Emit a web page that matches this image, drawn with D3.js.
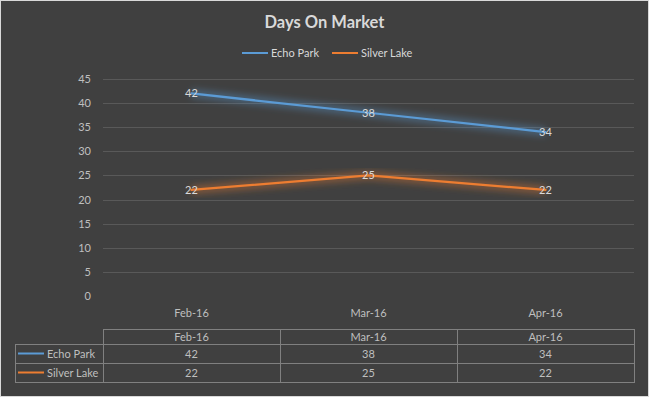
<!DOCTYPE html>
<html>
<head>
<meta charset="utf-8">
<script src="https://cdn.jsdelivr.net/npm/d3@7"></script>
<style>
  html, body { margin: 0; padding: 0; background: #404040; }
  svg { display: block; font-family: Lato, "Open Sans", sans-serif; }
</style>
</head>
<body>
<svg id="chart"></svg>
<script>
// ---- data ----
const months = ["Feb-16", "Mar-16", "Apr-16"];
const seriesNames = ["Echo Park", "Silver Lake"];
const echoPark = [42, 38, 34];
const silverLake = [22, 25, 22];
const yTicks = [0, 5, 10, 15, 20, 25, 30, 35, 40, 45];
const seriesColors = ["#5b9bd5", "#ed7d31"];

const seriesData = [echoPark, silverLake];

const W = 649, H = 397;
const plot = { left: 103, right: 634, top: 79, bottom: 296 };
const textColor = "#d9d9d9";
const tickColor = "#bfbfbf";

const svg = d3.select("#chart").attr("width", W).attr("height", H);

// background + border
svg.append("rect").attr("x", 0.5).attr("y", 0.5).attr("width", W - 1).attr("height", H - 1)
  .attr("fill", "#404040").attr("stroke", "#d9d9d9");

// glow filter
const defs = svg.append("defs");
const glow = defs.append("filter").attr("id", "glow")
  .attr("x", "-10%").attr("y", "-50%").attr("width", "120%").attr("height", "200%");
glow.append("feGaussianBlur").attr("stdDeviation", 3.5);

// title
svg.append("text").attr("x", W / 2).attr("y", 28).attr("text-anchor", "middle")
  .attr("fill", textColor).attr("font-size", 16.5).attr("font-weight", "bold")
  .text("Days On Market");

// legend
const legendX = [242, 332];
seriesNames.forEach((name, i) => {
  const g = svg.append("g").attr("transform", `translate(${legendX[i]},53)`);
  g.append("line").attr("x1", 0).attr("x2", 26).attr("stroke", seriesColors[i]).attr("stroke-width", 2);
  g.append("text").attr("x", 29).attr("y", 4).attr("fill", textColor).attr("font-size", 11).text(name);
});

// scales
const x = d3.scaleBand().domain(months).range([plot.left, plot.right]);
const y = d3.scaleLinear().domain([0, 45]).range([plot.bottom, plot.top]);

// gridlines
svg.append("g").selectAll("line").data(yTicks.filter(d => d > 0)).join("line")
  .attr("x1", plot.left).attr("x2", plot.right)
  .attr("y1", d => Math.round(y(d)) + 0.5).attr("y2", d => Math.round(y(d)) + 0.5)
  .attr("stroke", "#595959").attr("stroke-width", 1);

// y axis labels
svg.append("g").selectAll("text").data(yTicks).join("text")
  .attr("x", 91).attr("y", d => y(d) + 4).attr("text-anchor", "end")
  .attr("fill", tickColor).attr("font-size", 11).text(d => d);

// x axis labels
svg.append("g").selectAll("text").data(months).join("text")
  .attr("x", d => x(d) + x.bandwidth() / 2).attr("y", 317).attr("text-anchor", "middle")
  .attr("fill", tickColor).attr("font-size", 11).text(d => d);

// lines
const line = d3.line().x((d, i) => x(months[i]) + x.bandwidth() / 2).y(d => y(d));

seriesData.forEach((vals, i) => {
  svg.append("path").datum(vals).attr("d", line).attr("fill", "none")
    .attr("stroke", seriesColors[i]).attr("stroke-width", 8).attr("stroke-opacity", 0.4)
    .attr("filter", "url(#glow)");
  svg.append("path").datum(vals).attr("d", line).attr("fill", "none")
    .attr("stroke", seriesColors[i]).attr("stroke-width", 2.25).attr("stroke-linecap", "round");
  svg.append("g").selectAll("text").data(vals).join("text")
    .attr("x", (d, j) => x(months[j]) + x.bandwidth() / 2)
    .attr("y", d => y(d) + 4).attr("text-anchor", "middle")
    .attr("fill", textColor).attr("font-size", 11).text(d => d);
});

// data table
const tbl = { left: 15, top: 329, headH: 15, rowH: [19, 19] };
const rowY = [tbl.top, tbl.top + tbl.headH, tbl.top + tbl.headH + tbl.rowH[0], tbl.top + tbl.headH + tbl.rowH[0] + tbl.rowH[1]];
const tg = svg.append("g").attr("stroke", "#808080").attr("stroke-width", 1).attr("fill", "none");
// header box
tg.append("rect").attr("x", plot.left + 0.5).attr("y", rowY[0] + 0.5)
  .attr("width", plot.right - plot.left).attr("height", rowY[3] - rowY[0]);
tg.append("rect").attr("x", tbl.left + 0.5).attr("y", rowY[1] + 0.5)
  .attr("width", plot.right - tbl.left).attr("height", rowY[3] - rowY[1]);
tg.append("line").attr("x1", tbl.left).attr("x2", plot.right)
  .attr("y1", rowY[2] + 0.5).attr("y2", rowY[2] + 0.5);
months.slice(1).forEach(m => {
  tg.append("line").attr("x1", Math.round(x(m)) + 0.5).attr("x2", Math.round(x(m)) + 0.5)
    .attr("y1", rowY[0]).attr("y2", rowY[3]);
});

svg.append("g").selectAll("text").data(months).join("text")
  .attr("x", d => x(d) + x.bandwidth() / 2).attr("y", rowY[0] + 12).attr("text-anchor", "middle")
  .attr("fill", tickColor).attr("font-size", 11).text(d => d);

seriesData.forEach((vals, i) => {
  const cy = (rowY[i + 1] + rowY[i + 2]) / 2;
  svg.append("line").attr("x1", 18).attr("x2", 44).attr("y1", cy).attr("y2", cy)
    .attr("stroke", seriesColors[i]).attr("stroke-width", 2);
  svg.append("text").attr("x", 47).attr("y", cy + 4).attr("fill", tickColor)
    .attr("font-size", 11).text(seriesNames[i]);
  svg.append("g").selectAll("text").data(vals).join("text")
    .attr("x", (d, j) => x(months[j]) + x.bandwidth() / 2).attr("y", cy + 4)
    .attr("text-anchor", "middle").attr("fill", tickColor).attr("font-size", 11).text(d => d);
});
</script>
</body>
</html>
